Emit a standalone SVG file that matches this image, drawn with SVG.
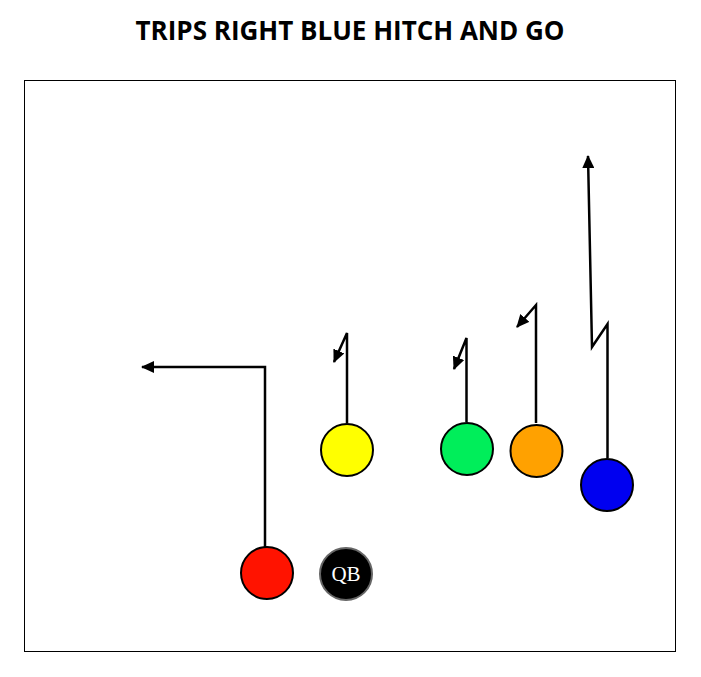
<svg xmlns="http://www.w3.org/2000/svg" width="701" height="677" viewBox="0 0 701 677">
<style>
.title{font-family:"Open Sans",sans-serif;font-weight:bold;font-size:26px;fill:#000}
.player{stroke:#000;stroke-width:2}
.route{fill:none;stroke:#000;stroke-width:2.5;stroke-linejoin:miter}
.qb{font-family:"Liberation Serif",serif;font-size:21px;fill:#fff}
</style>
<defs>
<marker id="ah" markerUnits="userSpaceOnUse" markerWidth="14" markerHeight="12" refX="12" refY="6" orient="auto">
<path d="M0,0 L13,6 L0,12 Z" fill="#000"/>
</marker>
</defs>
<rect width="701" height="677" fill="#fff"/>
<text class="title" x="350" y="40" text-anchor="middle">TRIPS RIGHT BLUE HITCH AND GO</text>
<rect x="24.5" y="80.5" width="651" height="571" fill="none" stroke="#000" stroke-width="1"/>
<g id="connectors">
<path class="route" d="M265,547 L265,367 L142,367" marker-end="url(#ah)"/>
<path class="route" d="M347,423 L347,333 L334,362" marker-end="url(#ah)"/>
<path class="route" d="M466.5,422 L466.5,338 L454,369" marker-end="url(#ah)"/>
<path class="route" d="M536,423 L536,305 L517,327" marker-end="url(#ah)"/>
<path class="route" d="M607.5,458 L607.5,324 L592,347 L588,156" marker-end="url(#ah)"/>
</g>
<g id="red"><circle class="player" cx="267" cy="573" r="26" fill="#ff1300"/></g>
<g id="qb"><circle cx="346" cy="574" r="26" fill="#000" stroke="#666" stroke-width="2"/><text class="qb" x="346" y="581" text-anchor="middle">QB</text></g>
<g id="yellow"><circle class="player" cx="347" cy="450" r="26" fill="#ffff00"/></g>
<g id="green"><circle class="player" cx="467" cy="449" r="26" fill="#00ee5a"/></g>
<g id="orange"><circle class="player" cx="536.5" cy="451" r="26" fill="#ffa100"/></g>
<g id="blue"><circle class="player" cx="607" cy="485" r="26" fill="#0000f0"/></g>
</svg>
